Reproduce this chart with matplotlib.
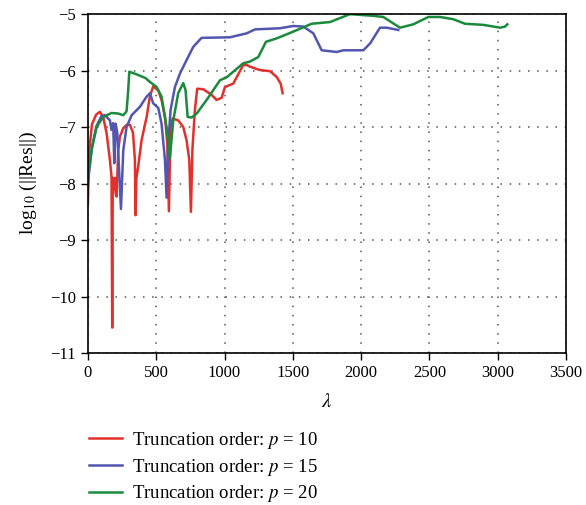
import matplotlib
matplotlib.use("Agg")
import matplotlib.pyplot as plt
import numpy as np

plt.rcParams['font.family'] = ['Liberation Serif', 'DejaVu Serif']
plt.rcParams['mathtext.fontset'] = 'stix'

# Data #########################################################################
lam_p10 = [0, 10, 30, 60, 88, 112, 137, 161, 173, 178, 182, 190, 198, 203, 210, 222, 234,
           259, 283, 308, 330, 344, 349, 355, 368, 393, 430, 454, 478, 515, 539, 564,
           581, 593, 605, 620, 661, 698, 722, 742, 754, 765, 783, 800, 845, 906, 942,
           979, 1003, 1064, 1137, 1162, 1186, 1259, 1333, 1381, 1411, 1425]
res_p10 = [-8.35, -7.41, -6.95, -6.78, -6.73, -6.82, -7.11, -7.58, -7.88, -10.55, -7.9, -8.1,
           -7.9, -8.17, -8.23, -7.41, -7.17, -7.02, -6.96, -6.96, -7.1, -7.58, -8.56,
           -7.9, -7.70, -7.23, -6.82, -6.45, -6.28, -6.35, -6.52, -6.82, -7.29, -8.49,
           -7.0, -6.85, -6.88, -7.0, -7.23, -7.58, -8.5, -7.4, -6.70, -6.32, -6.33,
           -6.43, -6.52, -6.48, -6.29, -6.23, -5.90, -5.90, -5.93, -5.99, -6.01,
           -6.11, -6.23, -6.40]

lam_p15 = [0, 30, 63, 100, 124, 161, 173, 185, 193, 203, 215, 242, 259, 283, 320, 381,
           430, 454, 478, 515, 539, 564, 576, 588, 605, 637, 674, 723, 771, 832, 1040,
           1162, 1223, 1406, 1503, 1577, 1650, 1711, 1821, 1870, 2016, 2065, 2138,
           2187, 2272]
res_p15 = [-7.99, -7.35, -6.98, -6.8, -6.79, -6.88, -7.05, -6.93, -7.64, -6.94, -7.1, -8.45,
           -7.41, -7.0, -6.79, -6.64, -6.46, -6.40, -6.58, -6.66, -6.94, -7.58, -8.25,
           -7.29, -6.70, -6.29, -6.05, -5.81, -5.58, -5.42, -5.41, -5.34, -5.27, -5.25,
           -5.21, -5.22, -5.34, -5.64, -5.67, -5.64, -5.64, -5.52, -5.24, -5.24, -5.28]

lam_p20 = [0, 27, 63, 112, 173, 222, 259, 283, 295, 303, 350, 420, 454, 503, 539, 576,
           600, 625, 661, 698, 715, 730, 759, 796, 869, 967, 1015, 1137, 1186, 1247,
           1303, 1381, 1503, 1638, 1772, 1918, 2089, 2162, 2284, 2382, 2492, 2577,
           2675, 2760, 2895, 3017, 3053, 3070]
res_p20 = [-7.88, -7.41, -7.0, -6.82, -6.75, -6.76, -6.79, -6.72, -6.35, -6.02, -6.06, -6.13,
           -6.20, -6.29, -6.46, -7.0, -7.55, -6.88, -6.40, -6.22, -6.35, -6.82, -6.83,
           -6.76, -6.52, -6.17, -6.12, -5.87, -5.84, -5.76, -5.49, -5.43, -5.31, -5.17,
           -5.14, -5.0, -5.03, -5.05, -5.24, -5.18, -5.05, -5.05, -5.09, -5.17, -5.19,
           -5.24, -5.22, -5.18]

series = [(lam_p10, res_p10, '#e2312b', 'Truncation order: $p$ = 10'),
          (lam_p15, res_p15, '#5356b0', 'Truncation order: $p$ = 15'),
          (lam_p20, res_p20, '#1b8a3c', 'Truncation order: $p$ = 20')]

# Plot #########################################################################
fig = plt.figure(figsize=(5.86, 5.05), dpi=100)
ax = fig.add_axes([0.150, 0.301, 0.816, 0.671])

for lam, res, col, lab in series:
	ax.plot(lam, res, color=col, linewidth=1.8, label=lab)

ax.set_xlim(0, 3500)
ax.set_ylim(-11, -5)
ax.set_xticks(np.arange(0, 3501, 500))
ax.set_yticks(np.arange(-11, -4, 1))
ax.grid(True, color='#555555', linestyle=(0, (1, 5)), linewidth=1.1)
ax.tick_params(direction='out', length=5, width=1, labelsize=12, color='black')
for s in ax.spines.values():
	s.set_linewidth(1.2)

ax.set_xlabel('$\\lambda$', fontsize=15, labelpad=9)
ax.set_ylabel('log$_{10}$ (||Res||)', fontsize=14, labelpad=8)

ax.legend(loc='upper left', bbox_to_anchor=(-0.013, -0.205), frameon=False, fontsize=13.5,
          handlelength=1.75, handletextpad=0.55, labelspacing=0.3, borderaxespad=0)

fig.savefig('out.png', dpi=100)
